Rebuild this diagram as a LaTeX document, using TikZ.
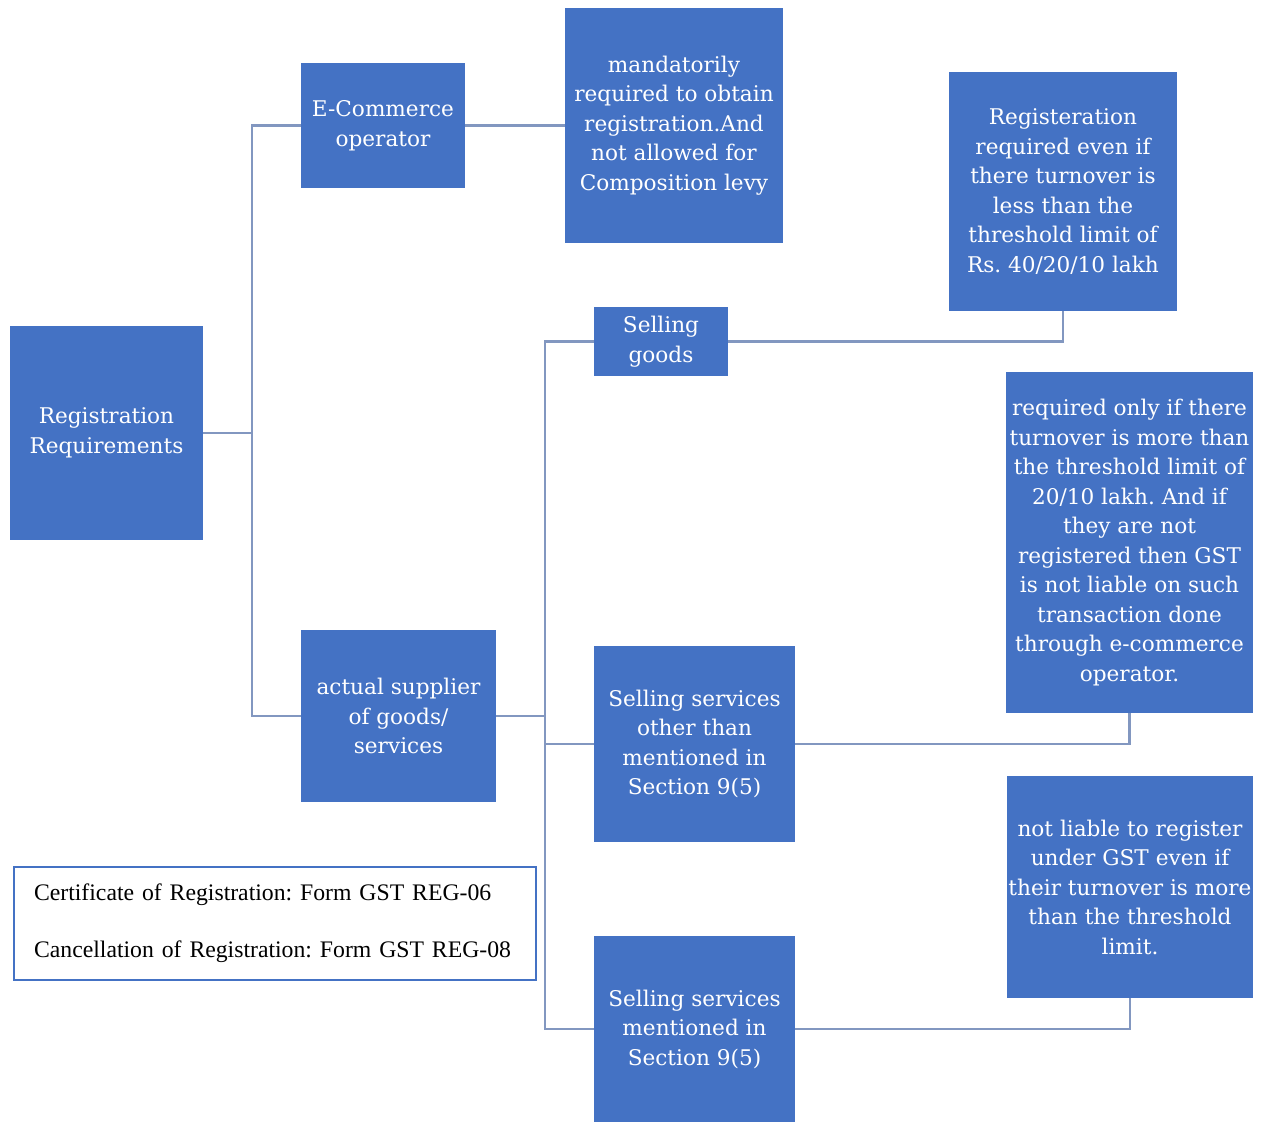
\documentclass[tikz,border=0pt]{standalone}
\usepackage{fontspec}
\setmainfont{DejaVu Serif}
\newfontfamily\timesf{Liberation Serif}
\definecolor{boxblue}{HTML}{4472C4}
\definecolor{linkblue}{HTML}{8297C0}
\begin{document}
\frenchspacing
\begin{tikzpicture}[x=0.02cm,y=-0.02cm,
  box/.style={rectangle, fill=boxblue, draw=none, text=white, align=center,
    inner sep=0pt, font=\fontsize{12.3}{16.8}\selectfont},
  conn/.style={draw=linkblue, line width=1.2pt},
  certbox/.style={rectangle, draw=boxblue, line width=1.2pt, fill=white, align=left,
    inner xsep=0.4cm, inner ysep=0pt, font=\timesf\fontsize{13.5}{16.5}\selectfont}]
\useasboundingbox[fill=white] (0,0) rectangle (1262,1122);

\node[box, minimum width=3.86cm, minimum height=4.28cm] (root) at (106.5,433) {Registration\\Requirements};
\node[box, minimum width=3.28cm, minimum height=2.5cm] (ecom) at (383,125.5) {E-Commerce\\operator};
\node[box, minimum width=4.36cm, minimum height=4.7cm] (mand) at (674,125.5) {mandatorily\\required to obtain\\registration.And\\not allowed for\\Composition levy};
\node[box, minimum width=3.9cm, minimum height=3.44cm] (supp) at (398.5,716) {actual supplier\\of goods/\\services};
\node[box, minimum width=2.68cm, minimum height=1.38cm] (goods) at (661,341.5) {Selling\\goods};
\node[box, minimum width=4.56cm, minimum height=4.78cm] (regbox) at (1063,191.5) {Registeration\\required even if\\there turnover is\\less than the\\threshold limit of\\Rs. 40/20/10 lakh};
\node[box, minimum width=4.02cm, minimum height=3.92cm] (other) at (694.5,744) {Selling services\\other than\\mentioned in\\Section 9(5)};
\node[box, minimum width=4.94cm, minimum height=6.82cm] (reqonly) at (1129.5,542.5) {required only if there\\turnover is more than\\the threshold limit of\\20/10 lakh. And if\\they are not\\registered then GST\\is not liable on such\\transaction done\\through e-commerce\\operator.};
\node[box, minimum width=4.02cm, minimum height=3.72cm] (ment) at (694.5,1029) {Selling services\\mentioned in\\Section 9(5)};
\node[box, minimum width=4.92cm, minimum height=4.44cm] (notliable) at (1130,887) {not liable to register\\under GST even if\\their turnover is more\\than the threshold\\limit.};
\node[certbox, minimum width=10.44cm, minimum height=2.26cm, text width=9.64cm] (cert) at (275,923.5) {Certificate of Registration: Form GST REG-06\\[16pt]Cancellation of Registration: Form GST REG-08};

\coordinate (j1) at (252,433);
\coordinate (j2) at (545,716);
\draw[conn] (root.east) -- (j1);
\draw[conn] (ecom.west) -| (j1);
\draw[conn] (j1) |- (supp.west);
\draw[conn] (ecom.east) -- (mand.west);
\draw[conn] (supp.east) -- (j2);
\draw[conn] (goods.west) -| (j2);
\draw[conn] (j2) |- (other.west);
\draw[conn] (j2) |- (ment.west);
\draw[conn] (goods.east) -| (regbox.south);
\draw[conn] (other.east) -| (reqonly.south);
\draw[conn] (ment.east) -| (notliable.south);
\end{tikzpicture}
\end{document}
